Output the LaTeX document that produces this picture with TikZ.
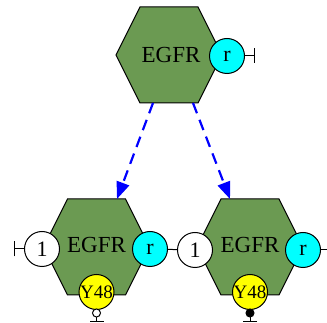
\documentclass[tikz,border=0pt]{standalone}
\usepackage{fontspec}
\setmainfont{Liberation Serif}
\usetikzlibrary{arrows.meta}
\definecolor{hexgreen}{RGB}{107,154,82}
\definecolor{sitecyan}{RGB}{0,255,255}
\definecolor{tyryellow}{RGB}{255,255,0}
\begin{document}
\begin{tikzpicture}[x=1pt,y=-1pt,
    hexa/.style={fill=hexgreen,draw=black,line width=1pt},
    egfr/.style={inner sep=0pt,font=\fontsize{23}{23}\selectfont},
    site/.style={circle,draw=black,line width=1pt,minimum size=35pt,inner sep=-2pt,font=\fontsize{22}{22}\selectfont},
    tyr/.style={site,fill=tyryellow,font=\fontsize{19}{19}\selectfont},
    phos/.style={circle,draw=black,line width=1pt,minimum size=8pt,inner sep=0pt},
    flow/.style={blue,line width=2.2pt,dash pattern=on 11pt off 7pt,-{Triangle[length=17pt,width=13pt]}},
    bond/.style={black,line width=1pt}]
    \useasboundingbox (0,0) rectangle (327,323);
    \coordinate (T) at (169,55);
    \coordinate (L) at (96.5,247);
    \coordinate (R) at (250,247);
    \foreach \c in {T,L,R}
        \draw[hexa] (\c) ++(-53,0) -- ++(24,-48) -- ++(58,0) -- ++(24,48) -- ++(-24,48) -- ++(-58,0) -- cycle;
    % receptor labels
    \node[egfr] (egfrT) at ([xshift=2pt]T) {EGFR};
    \node[egfr] (egfrL) at ([yshift=2pt]L) {EGFR};
    \node[egfr] (egfrR) at ([yshift=2pt]R) {EGFR};
    % binding sites
    \node[site,fill=sitecyan] (rT) at (227,56) {r};
    \node[site,fill=white] (oneL) at (42,249) {1};
    \node[site,fill=sitecyan] (rL) at (150,249) {r};
    \node[site,fill=white] (oneR) at (195,250) {1};
    \node[site,fill=sitecyan] (rR) at (303,250) {r};
    \node[tyr] (yL) at (96.5,292) {Y48};
    \node[tyr] (yR) at (250,292) {Y48};
    % phosphorylation states
    \node[phos,fill=white] (pL) at (96.5,313) {};
    \node[phos,fill=black] (pR) at (250,313) {};
    \draw[bond,-{Bar[width=14pt]}] (pL.south) -- ++(0,4.5);
    \draw[bond,-{Bar[width=14pt]}] (pR.south) -- ++(0,4.5);
    % free and bound sites
    \draw[bond,-{Bar[width=15pt]}] (rT.east) -- ++(10,0);
    \draw[bond,-{Bar[width=15pt]}] (oneL.west) -- ++(-10,0);
    \draw[bond] (rL) -- (oneR);
    \coordinate (edge) at (327,250);
    \draw[bond] (rR.east) -- (edge);
    % transitions
    \coordinate (srcA) at (153,103);
    \coordinate (srcB) at (193,103);
    \coordinate (dstA) at (117,199);
    \coordinate (dstB) at (230,199);
    \draw[flow] (srcA) -- (dstA);
    \draw[flow] (srcB) -- (dstB);
\end{tikzpicture}
\end{document}
